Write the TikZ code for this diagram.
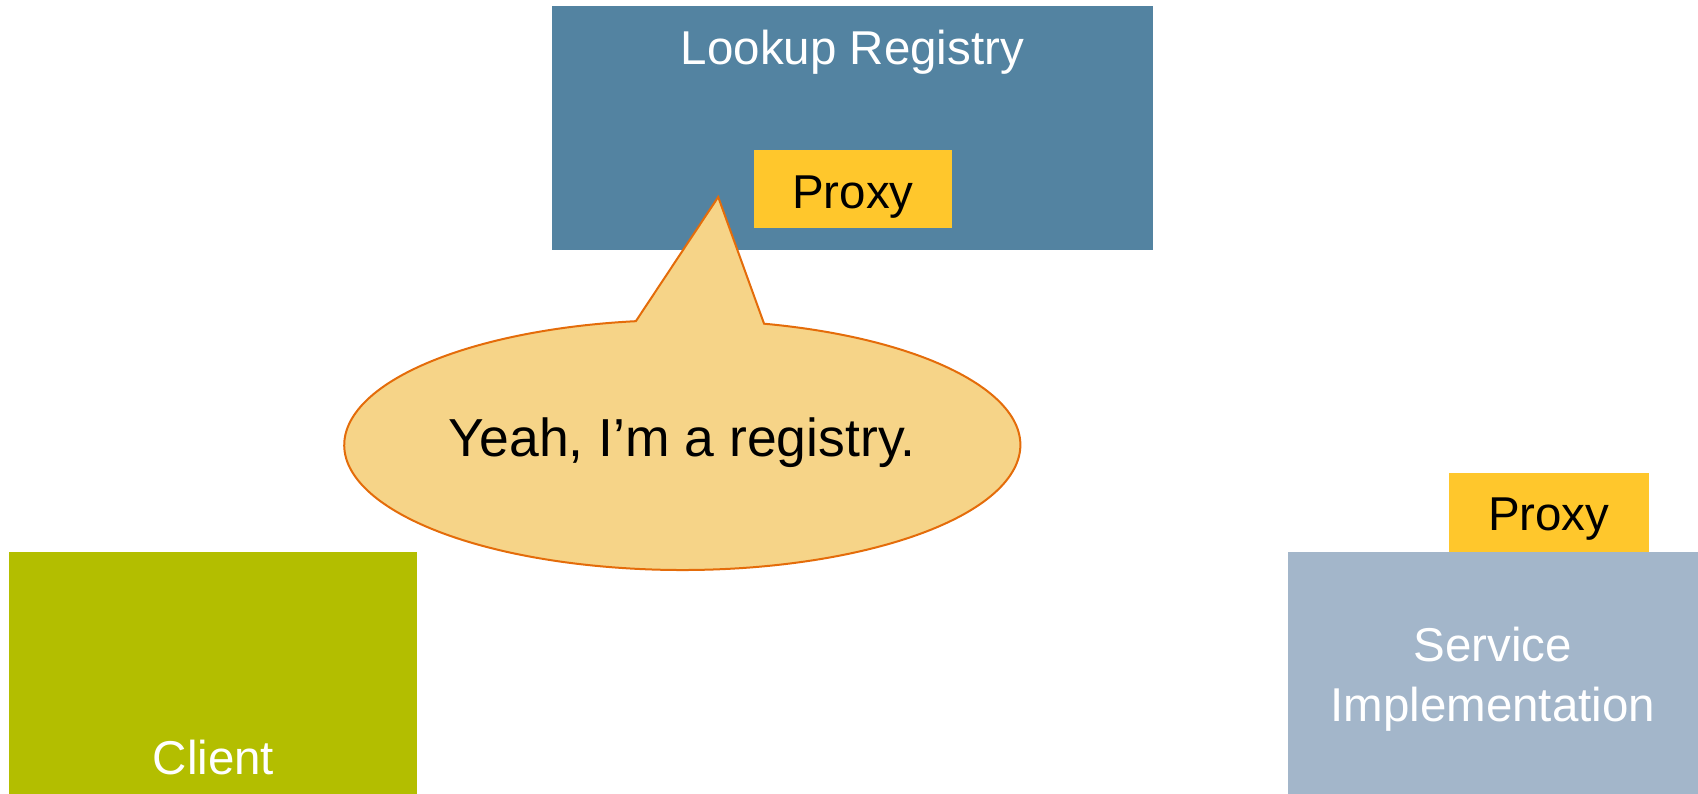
\documentclass[tikz,border=0pt]{standalone}
\usepackage{fontspec}
\setmainfont{Liberation Sans}
\definecolor{registryblue}{HTML}{5383A1}
\definecolor{proxyyellow}{HTML}{FFC72C}
\definecolor{clientgreen}{HTML}{B3BE00}
\definecolor{serviceblue}{HTML}{A3B6CA}
\definecolor{bubblefill}{HTML}{F6D488}
\definecolor{bubbleline}{HTML}{E46C0A}
\begin{document}
\begin{tikzpicture}[x=1pt,y=1pt,
  panel/.style={inner sep=0pt, outer sep=0pt, anchor=south west, draw=none},
  label/.style={inner sep=0pt, outer sep=0pt, anchor=base,
    font=\fontsize{47.5pt}{57pt}\selectfont},
  whitelabel/.style={label, text=white},
  blacklabel/.style={label, text=black},
  bubble/.style={fill=bubblefill, draw=bubbleline, line width=2pt, line join=miter}]
  \useasboundingbox (0,0) rectangle (1698,794);

  % Lookup registry with its proxy
  \node[panel, fill=registryblue, minimum width=601pt, minimum height=243.5pt] (registry) at (552,544) {};
  \node[whitelabel] (registrytext) at (852.5,729) {Lookup Registry};
  \node[panel, fill=proxyyellow, minimum width=198pt, minimum height=78.5pt] (regproxy) at (754,565.5) {};
  \node[blacklabel] (regproxytext) at (853,585) {Proxy};

  % Client
  \node[panel, fill=clientgreen, minimum width=408.5pt, minimum height=242pt] (client) at (8.5,0) {};
  \node[whitelabel] (clienttext) at (213.5,19.5) {Client};

  % Service implementation with its proxy
  \node[panel, fill=serviceblue, minimum width=410.4pt, minimum height=242pt] (service) at (1287.6,0) {};
  \node[whitelabel] (servicetext1) at (1492.8,132) {Service};
  \node[whitelabel] (servicetext2) at (1492.8,72.3) {Implementation};
  \node[panel, fill=proxyyellow, minimum width=199.5pt, minimum height=79pt] (svcproxy) at (1449,242) {};
  \node[blacklabel] (svcproxytext) at (1548.7,263) {Proxy};

  % Speech bubble pointing at the registry proxy
  \coordinate (tip) at (718.2,597);
  \coordinate (bubblecenter) at (682.3,349);
  \draw[bubble] (tip) -- (764.07,470.29)
    arc[start angle=76, end angle=-262.1, x radius=338, y radius=125] -- cycle;
  \node[blacklabel, font=\fontsize{53.5pt}{64pt}\selectfont] (bubbletext) at (682.3,337.3) {Yeah, I’m a registry.};
\end{tikzpicture}
\end{document}
